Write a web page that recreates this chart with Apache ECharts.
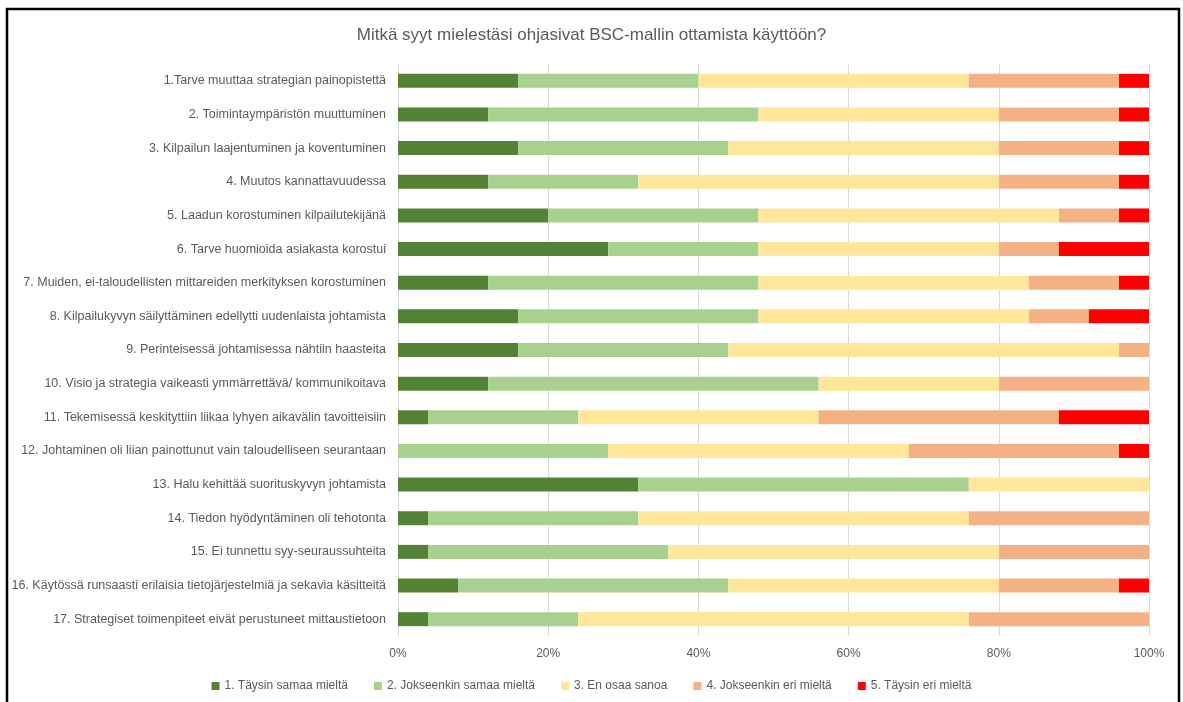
<!DOCTYPE html>
<html><head><meta charset="utf-8">
<script src="https://cdn.jsdelivr.net/npm/echarts@6/dist/echarts.min.js"></script>
<style>html,body{margin:0;padding:0;background:#fff}#c{width:1183px;height:702px}</style>
</head><body><div id="c"></div>
<script>
const categories = [
  "1.Tarve muuttaa strategian painopistettä",
  "2. Toimintaympäristön muuttuminen",
  "3. Kilpailun laajentuminen ja koventuminen",
  "4. Muutos kannattavuudessa",
  "5. Laadun korostuminen kilpailutekijänä",
  "6. Tarve huomioida asiakasta korostui",
  "7. Muiden, ei-taloudellisten mittareiden merkityksen korostuminen",
  "8. Kilpailukyvyn säilyttäminen edellytti uudenlaista johtamista",
  "9. Perinteisessä johtamisessa nähtiin haasteita",
  "10. Visio ja strategia vaikeasti ymmärrettävä/ kommunikoitava",
  "11. Tekemisessä keskityttiin liikaa lyhyen aikavälin tavoitteisiin",
  "12. Johtaminen oli liian painottunut vain taloudelliseen seurantaan",
  "13. Halu kehittää suorituskyvyn johtamista",
  "14. Tiedon hyödyntäminen oli tehotonta",
  "15. Ei tunnettu syy-seuraussuhteita",
  "16. Käytössä runsaasti erilaisia tietojärjestelmiä ja sekavia käsitteitä",
  "17. Strategiset toimenpiteet eivät perustuneet mittaustietoon"
];
const seriesNames = ["1. Täysin samaa mieltä","2. Jokseenkin samaa mieltä","3. En osaa sanoa","4. Jokseenkin eri mieltä","5. Täysin eri mieltä"];
const s1 = [16,12,16,12,20,28,12,16,16,12,4,0,32,4,4,8,4];
const s2 = [24,36,28,20,28,20,36,32,28,44,20,28,44,28,32,36,20];
const s3 = [36,32,36,48,40,32,36,36,52,24,32,40,24,44,44,36,52];
const s4 = [20,16,16,16,8,8,12,8,4,20,32,28,0,24,20,16,24];
const s5 = [4,4,4,4,4,12,4,8,0,0,12,4,0,0,0,4,0];
const colors = ["#548235","#A9D18E","#FFE699","#F4B183","#FF0000"];
const values = [s1,s2,s3,s4,s5];

const chart = echarts.init(document.getElementById('c'), null, {renderer:'canvas'});
const font = '"Liberation Sans", Arial, sans-serif';
chart.setOption({
  animation:false,
  color: colors,
  textStyle:{fontFamily:font},
  title:{text:"Mitkä syyt mielestäsi ohjasivat BSC-mallin ottamista käyttöön?",left:'center',top:22,
    textStyle:{color:'#595959',fontSize:17,fontWeight:'normal',fontFamily:font}},
  legend:{bottom:5,left:'center',itemWidth:8,itemHeight:8,itemGap:26,icon:'rect',
    textStyle:{color:'#595959',fontSize:12,fontFamily:font},data:seriesNames},
  grid:{left:398,right:34,top:64,bottom:66,containLabel:false},
  xAxis:{type:'value',min:0,max:100,interval:20,
    axisLabel:{formatter:'{value}%',color:'#595959',fontSize:12,margin:12},
    splitLine:{show:true,lineStyle:{color:'#D9D9D9',width:1}},
    axisLine:{show:false},axisTick:{show:false}},
  yAxis:{type:'category',inverse:true,data:categories,
    axisLabel:{color:'#595959',fontSize:12.5,margin:12},
    axisLine:{show:false},axisTick:{show:false}},
  series: seriesNames.map((n,i)=>({name:n,type:'bar',stack:'t',barWidth:14,data:values[i],
    itemStyle:{color:colors[i]}})),
  graphic:[{type:'rect',shape:{x:7,y:9,width:1172,height:800},style:{fill:null,stroke:'#000',lineWidth:2.5},silent:true,z:100}]
});
</script></body></html>
